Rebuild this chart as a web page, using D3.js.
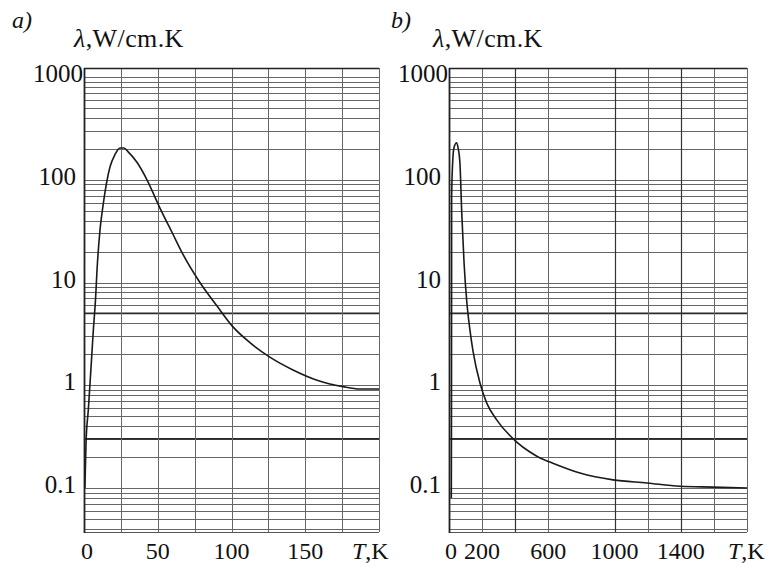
<!DOCTYPE html>
<html>
<head>
<meta charset="utf-8">
<script src="https://cdn.jsdelivr.net/npm/d3@7"></script>
<style>
  html, body { margin: 0; padding: 0; background: #fff; }
  svg { display: block; }
  text { font-family: "Liberation Serif", "Times New Roman", serif; fill: #111; }
</style>
</head>
<body>
<svg id="chart" width="774" height="570"></svg>
<script>
// ---------- data ----------
const panelLetters = ["a)", "b)"];
const yUnitLabel = ",W/cm.K";
const xUnitLabel = ",K";

const yTickValues = [1000, 100, 10, 1, 0.1];
const yTickLabels = ["1000", "100", "10", "1", "0.1"];
const yBoldLines = [5, 0.3];
const yDomain = [0.0373, 1224];

// panel a
const xDomainA = [0, 200];
const xGridA = [25, 50, 75, 100, 125, 150, 175, 200];
const xTickValuesA = [0, 50, 100, 150];
const xTickLabelsA = ["0", "50", "100", "150"];
const xBoldA = [];
const tempA = [0.6, 1.4, 2.9, 4.1, 5.2, 6.3, 7.9, 8.8, 10.8, 12.9, 17.6, 21, 24.4, 27.1, 29.8, 35.9, 42.7, 51.5, 60.3, 67.1, 78.6, 90.2, 101, 112.5, 126, 141.7, 158, 175.6, 187, 200];
const lambdaA = [0.1, 0.28, 0.57, 1.05, 1.88, 3.4, 7.2, 13, 32, 56, 133, 176, 204, 204, 188, 148, 100, 53, 29.5, 18.8, 10, 5.9, 3.7, 2.6, 1.88, 1.41, 1.12, 0.97, 0.92, 0.92];

// panel b
const xDomainB = [0, 1800];
const xGridB = [200, 400, 600, 1000, 1200, 1400, 1600, 1800];
const xTickValuesB = [0, 200, 600, 1000, 1400];
const xTickLabelsB = ["0", "200", "600", "1000", "1400"];
const xBoldB = [400, 1000, 1400];
const tempB = [14, 15, 15.5, 16, 22, 30, 46, 56, 66, 77, 91, 107, 127, 145, 187, 228, 288, 409, 489, 550, 610, 791, 991, 1196, 1395, 1595, 1800];
const lambdaB = [0.08, 0.5, 5, 68, 146, 205, 229, 200, 146, 47.5, 15.5, 6.6, 3.4, 2.15, 1.05, 0.67, 0.46, 0.28, 0.224, 0.196, 0.179, 0.14, 0.12, 0.112, 0.104, 0.102, 0.1];

// ---------- layout ----------
const svg = d3.select("#chart");
const plotTop = 68, plotBottom = 532;

const panels = [
  { letter: panelLetters[0], left: 84, right: 379, xDomain: xDomainA, xGrid: xGridA, xBold: xBoldA,
    xTicks: xTickValuesA, xLabels: xTickLabelsA, T: tempA, L: lambdaA,
    letterX: 12, unitX: 74, tkX: 352, zeroShift: 3 },
  { letter: panelLetters[1], left: 449, right: 747, xDomain: xDomainB, xGrid: xGridB, xBold: xBoldB,
    xTicks: xTickValuesB, xLabels: xTickLabelsB, T: tempB, L: lambdaB,
    letterX: 391, unitX: 433, tkX: 728, zeroShift: 2 }
];

const y = d3.scaleLog().domain(yDomain).range([plotBottom, plotTop]);

// all minor log gridlines
const yGrid = [];
for (let e = -2; e <= 3; e++) {
  for (let k = 1; k <= 9; k++) {
    const v = k * Math.pow(10, e);
    if (v > yDomain[0] && v < yDomain[1]) yGrid.push(v);
  }
}

panels.forEach(p => {
  const x = d3.scaleLinear().domain(p.xDomain).range([p.left, p.right]);
  const g = svg.append("g");

  // horizontal gridlines
  g.selectAll("line.hg").data(yGrid).join("line")
    .attr("x1", p.left).attr("x2", p.right)
    .attr("y1", d => Math.round(y(d)) + 0.5).attr("y2", d => Math.round(y(d)) + 0.5)
    .attr("stroke", "#666").attr("stroke-width", 1);

  g.selectAll("line.hb").data(yBoldLines).join("line")
    .attr("x1", p.left).attr("x2", p.right)
    .attr("y1", d => y(d)).attr("y2", d => y(d))
    .attr("stroke", "#2a2a2a").attr("stroke-width", 1.8);

  // vertical gridlines
  g.selectAll("line.vg").data(p.xGrid).join("line")
    .attr("x1", d => Math.round(x(d)) + 0.5).attr("x2", d => Math.round(x(d)) + 0.5)
    .attr("y1", plotTop).attr("y2", plotBottom)
    .attr("stroke", d => p.xBold.includes(d) ? "#333" : "#666")
    .attr("stroke-width", d => p.xBold.includes(d) ? 1.2 : 1);

  // frame: top, bottom, left axis
  g.append("line").attr("x1", p.left).attr("x2", p.right).attr("y1", plotTop + 0.5).attr("y2", plotTop + 0.5)
    .attr("stroke", "#222").attr("stroke-width", 1.5);
  g.append("line").attr("x1", p.left).attr("x2", p.right).attr("y1", plotBottom + 0.5).attr("y2", plotBottom + 0.5)
    .attr("stroke", "#555").attr("stroke-width", 1.2);
  g.append("line").attr("x1", p.left + 0.5).attr("x2", p.left + 0.5).attr("y1", plotTop).attr("y2", plotBottom + 1)
    .attr("stroke", "#222").attr("stroke-width", 1.8);

  // curve
  const data = p.T.map((t, i) => [t, p.L[i]]);
  const line = d3.line().x(d => x(d[0])).y(d => y(d[1])).curve(d3.curveMonotoneX);
  g.append("path").datum(data).attr("d", line)
    .attr("fill", "none").attr("stroke", "#1a1a1a").attr("stroke-width", 1.6);

  // y tick labels
  g.selectAll("text.yl").data(yTickValues).join("text")
    .attr("x", (d, i) => i === 0 ? p.left - 1 : p.left - 8)
    .attr("y", d => y(d) + 5)
    .attr("text-anchor", "end")
    .attr("font-size", 25)
    .text((d, i) => yTickLabels[i]);

  // x tick labels
  g.selectAll("text.xl").data(p.xTicks).join("text")
    .attr("x", (d, i) => x(d) + (i === 0 ? p.zeroShift : 0))
    .attr("y", 559)
    .attr("text-anchor", "middle")
    .attr("font-size", 24)
    .text((d, i) => p.xLabels[i]);

  // T,K
  const tk = g.append("text").attr("x", p.tkX).attr("y", 559).attr("font-size", 24);
  tk.append("tspan").attr("font-style", "italic").text("T");
  tk.append("tspan").text(xUnitLabel);

  // lambda unit label
  const ul = g.append("text").attr("x", p.unitX).attr("y", 47).attr("font-size", 26)
    .attr("letter-spacing", 0.4);
  ul.append("tspan").attr("font-style", "italic").text("λ");
  ul.append("tspan").text(yUnitLabel);

  // panel letter
  g.append("text").attr("x", p.letterX).attr("y", 28)
    .attr("font-size", 24).attr("font-style", "italic").text(p.letter);
});
</script>
</body>
</html>
